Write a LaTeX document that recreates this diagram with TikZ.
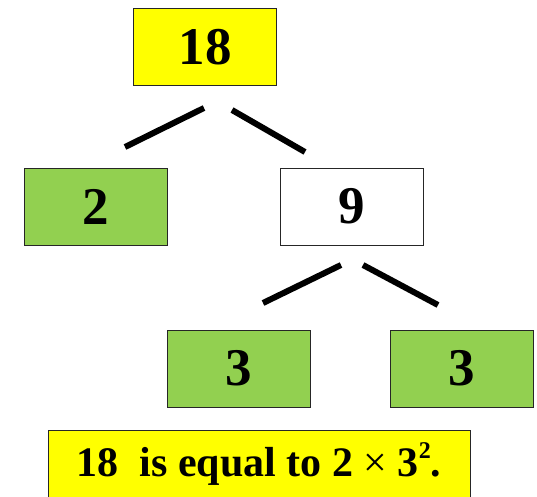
\documentclass[tikz,border=0pt]{standalone}
\usepackage{fontspec}
\setmainfont{Liberation Serif}
\usepackage{xcolor}
\definecolor{boxyellow}{HTML}{FFFF00}
\definecolor{boxgreen}{HTML}{92D050}
\usetikzlibrary{positioning,calc}

\begin{document}
\begin{tikzpicture}[
    x=1pt, y=-1pt,
    factor/.style={rectangle, draw=black!85, line width=0.8pt, minimum width=143pt, minimum height=77pt, font=\fontsize{53}{60}\selectfont\bfseries},
    branch/.style={line width=6pt}
]
\useasboundingbox (0,0) rectangle (537,496);
\node[factor, fill=boxyellow] (n18) at (205,47) {18};
\node[factor, fill=boxgreen] (n2) at (95.5,206.5) {2};
\node[factor, fill=white] (n9) at (351.5,206.5) {9};
\node[factor, fill=boxgreen] (n3a) at (238.5,368.5) {3};
\node[factor, fill=boxgreen] (n3b) at (461.5,368.5) {3};
\node[rectangle, draw=black!85, line width=0.8pt, fill=boxyellow, minimum width=422pt, minimum height=68pt,
    font=\fontsize{42}{50}\selectfont\bfseries] (result) at (259,464)
    {18\ \ is equal to 2 {\mdseries ×} 3\raisebox{0.42em}{\fontsize{24}{28}\selectfont 2}.};
% branches
\coordinate (b1a) at (125,147);
\coordinate (b1b) at (204,108);
\coordinate (b2a) at (232,110);
\coordinate (b2b) at (305,152);
\coordinate (b3a) at (263,303);
\coordinate (b3b) at (341,265);
\coordinate (b4a) at (363,265);
\coordinate (b4b) at (438,305);
\draw[branch] (b1a) -- (b1b);
\draw[branch] (b2a) -- (b2b);
\draw[branch] (b3a) -- (b3b);
\draw[branch] (b4a) -- (b4b);
\end{tikzpicture}
\end{document}
